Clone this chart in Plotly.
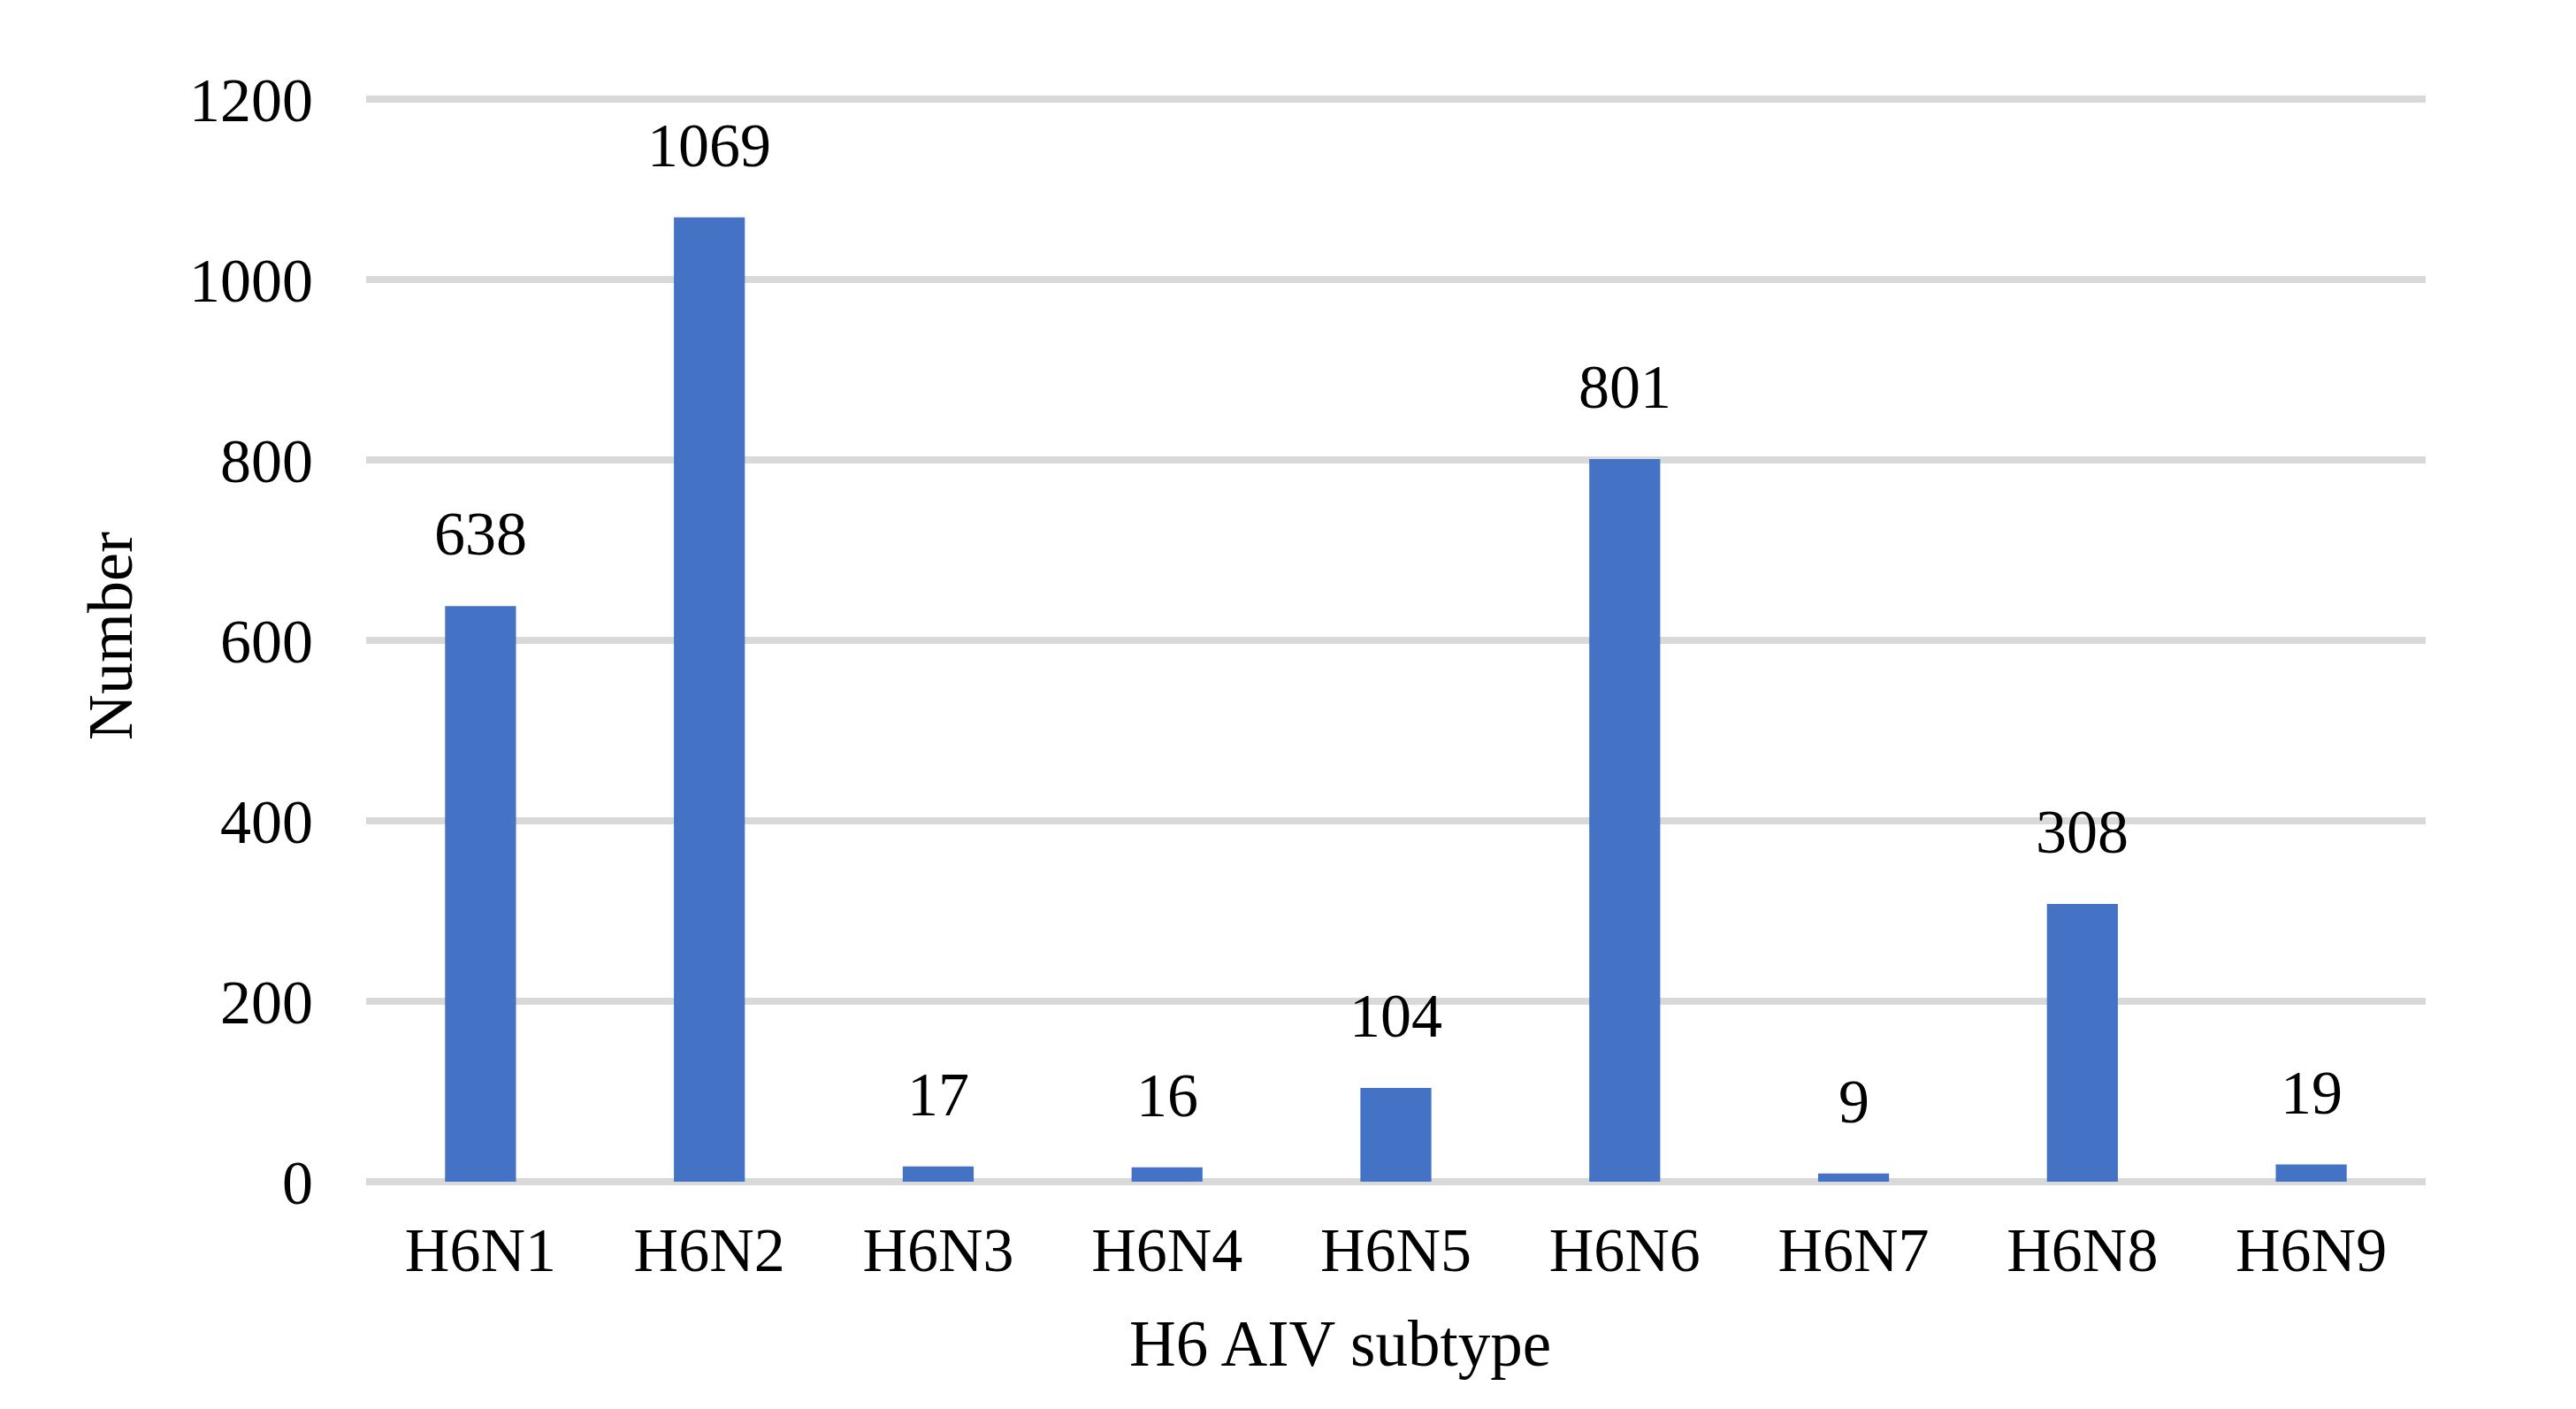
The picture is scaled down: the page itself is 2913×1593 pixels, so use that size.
'''
    Bar chart of H6 AIV subtypes counts.
'''
import plotly.graph_objects as go

subtypes = ['H6N1', 'H6N2', 'H6N3', 'H6N4', 'H6N5', 'H6N6', 'H6N7', 'H6N8', 'H6N9']
counts = [638, 1069, 17, 16, 104, 801, 9, 308, 19]
y_ticks = [0, 200, 400, 600, 800, 1000, 1200]

FONT = 'Liberation Serif'
SIZE = 70
GRID = '#D9D9D9'

fig = go.Figure(go.Bar(
    x=subtypes,
    y=counts,
    marker_color='#4472C4',
    marker_line_width=0,
    hoverinfo='x,y'))

# etiquettes de valeur au-dessus des barres
for s, c in zip(subtypes, counts):
    fig.add_annotation(x=s, y=c, text=str(c), showarrow=False,
                       yanchor='bottom', yshift=41,
                       font=dict(family=FONT, size=SIZE, color='black'))

# titre de l'axe x (un peu decale a gauche comme dans l'original)
fig.add_annotation(x=0.473, y=0, xref='paper', yref='paper',
                   text='H6 AIV subtype', showarrow=False,
                   xanchor='center', yanchor='middle', yshift=-183,
                   font=dict(family=FONT, size=73, color='black'))

fig.update_layout(
    width=2913, height=1593,
    template='plotly_white',
    plot_bgcolor='white', paper_bgcolor='white',
    bargap=0.69,
    margin=dict(l=406, r=178, t=94, b=265),
    font=dict(family=FONT, size=SIZE, color='black'),
    showlegend=False)

fig.update_xaxes(
    showgrid=False, showline=False, ticks='', ticklabelstandoff=30,
    tickfont=dict(family=FONT, size=SIZE, color='black'))
fig.update_yaxes(
    title_text='Number', title_standoff=40,
    title_font=dict(family=FONT, size=72, color='black'),
    range=[0, 1210], tickvals=y_ticks,
    showgrid=True, gridcolor=GRID, gridwidth=8,
    zeroline=True, zerolinecolor=GRID, zerolinewidth=8,
    showline=False, ticks='', ticklabelstandoff=59,
    tickfont=dict(family=FONT, size=SIZE, color='black'))

fig.write_html('out.html')
